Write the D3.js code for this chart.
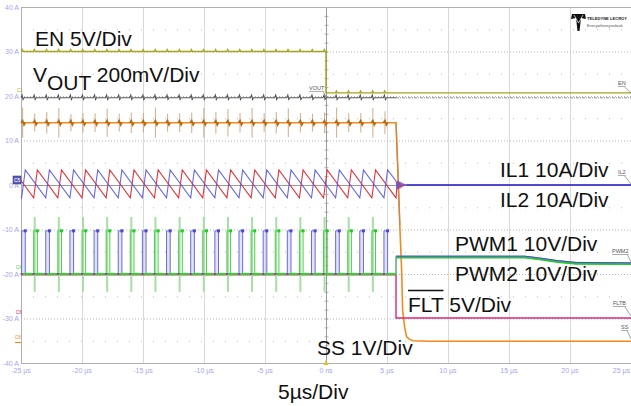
<!DOCTYPE html>
<html><head><meta charset="utf-8">
<script src="https://cdn.jsdelivr.net/npm/d3@7/dist/d3.min.js"></script>
<style>body{margin:0;background:#fff}svg{display:block}</style>
</head><body><svg id="c" width="631" height="406"></svg>
<script>
// ---- data read from the scope capture ----
const timeTicks = [-25,-20,-15,-10,-5,0,5,10,15,20,25];
const timeTickLabels = ["-25 µs","-20 µs","-15 µs","-10 µs","-5 µs","0 ns","5 µs","10 µs","15 µs","20 µs","25 µs"];
const divTicks = [40,30,20,10,0,-10,-20,-30,-40];
const divTickLabels = ["40 A","30 A","20 A","10 A","0 A","-10 A","-20 A","-30 A","-40 A"];
const halfDivTicks = [35,25,15,5,-5,-15,-25,-35];

// switching instants (µs) of the two phases (peak of inductor current = end of on-time)
const phase1Peaks = [-24.65,-22.67,-20.69,-18.71,-16.73,-14.75,-12.77,-10.79,-8.81,-6.83,-4.85,-2.87,-0.89,1.09,3.07,5.05];
const phase2Peaks = [-23.66,-21.68,-19.70,-17.72,-15.74,-13.76,-11.78,-9.80,-7.82,-5.84,-3.86,-1.88,0.10,2.08,4.06];
const onTime = 0.3;
const faultTime = 5.74;
const enFallTime = 0;

// levels (screen units, 10 per division)
const enLevels = [30, 20.7];
const voutLevel = 19.6;
const ilPeak = 3.4, ilValley = -2.9;
const il1Start = -2.7, il2Start = 1.0;
const ilRingTimes = [5.74, 5.85, 5.95, 6.05, 6.15, 6.3, 6.45, 6.6, 25];
const il1RingValues = [0.9, -1.0, 0.8, -0.7, 0.5, -0.3, 0.15, 0, 0];
const il2RingValues = [-2.9, 0.9, -0.9, 0.7, -0.5, 0.3, -0.1, 0, 0];
const pwmLow = -20, pwmHigh = -10.3;
const pwm2SpikeTop = -7.2, pwm2SpikeBottom = -24;
const pwmPostTimes = [5.74, 16.3, 17.5, 19.0, 20.5, 25];
const pwm1PostValues = [-16.0, -16.0, -16.4, -17.0, -17.4, -17.5];
const pwm2PostValues = [-16.3, -16.3, -16.7, -17.3, -17.7, -17.8];
const fltLevels = [-20.2, -29.9];
const ssHigh = 14;
const ssFallTimes = [5.74, 5.90, 6.05, 6.20, 6.28, 6.45, 6.61, 6.85, 7.13, 8.5, 25];
const ssFallValues = [14, 2.5, -9, -19.1, -28.1, -32.0, -34.1, -34.7, -35.0, -35.1, -35.1];
const ssSpikeAmps = [3.4,2.0,2.4,3.3,1.9,2.2,2.1,3.2,2.0,2.3,2.2,3.4,2.0,2.1,2.3,3.3,2.4,3.1,2.2,3.3,2.1,2.4,3.2,2.2,2.0,2.3,3.4,2.1,2.2,3.3,2.6];

const annotations = [
  {text:"EN 5V/Div", x:35, y:46},
  {text:"IL1 10A/Div", x:500, y:177},
  {text:"IL2 10A/Div", x:500, y:207},
  {text:"PWM1 10V/Div", x:455, y:251},
  {text:"PWM2 10V/Div", x:455, y:281},
  {text:"SS 1V/Div", x:317, y:355},
  {text:"5µs/Div", x:278, y:399}
];
const traceTags = [
  {text:"EN", x:618, y:85, lx:631, ly:93},
  {text:"IL2", x:618, y:174, lx:631, ly:184},
  {text:"PWM2", x:612, y:253, lx:631, ly:262},
  {text:"FLTB", x:613, y:305, lx:631, ly:316},
  {text:"SS", x:621, y:329, lx:631, ly:339},
  {text:"VOUT", x:309, y:90, lx:327, ly:98}
];

// ---- drawing ----
const svg = d3.select("#c");
const x = d3.scaleLinear().domain([-25,25]).range([21,631]);
const y = d3.scaleLinear().domain([-40,40]).range([363,7]);
const line = d3.line().x(d=>x(d[0])).y(d=>y(d[1]));
const FONT = "'Liberation Sans', Arial, sans-serif";

// grid
const g = svg.append("g");
g.selectAll(".vg").data(timeTicks.slice(1,-1)).enter().append("line")
  .attr("x1",d=>x(d)+0.5).attr("x2",d=>x(d)+0.5).attr("y1",y(40)).attr("y2",y(-40))
  .attr("stroke",d=>d===0?"#9a9a9a":"#d9d9d9").attr("stroke-width",1);
g.selectAll(".hg").data(divTicks.slice(1,-1)).enter().append("line")
  .attr("x1",x(-25)).attr("x2",x(25)).attr("y1",d=>y(d)+0.5).attr("y2",d=>y(d)+0.5)
  .attr("stroke",d=>d===0?"#9a9a9a":"#b5b5b5").attr("stroke-width",1)
  .attr("stroke-dasharray",d=>d===0?null:"1,2");
g.selectAll(".hh").data(halfDivTicks).enter().append("line")
  .attr("x1",x(-25)).attr("x2",x(25)).attr("y1",d=>y(d)+0.5).attr("y2",d=>y(d)+0.5)
  .attr("stroke","#bdbdbd").attr("stroke-width",1).attr("stroke-dasharray","1,11");
const ctick = d3.range(-40,40.1,2);
g.selectAll(".ct").data(ctick).enter().append("line")
  .attr("x1",x(0)-1.5).attr("x2",x(0)+2.5).attr("y1",d=>y(d)+0.5).attr("y2",d=>y(d)+0.5)
  .attr("stroke","#a0a0a0").attr("stroke-width",0.8);
g.append("line").attr("x1",x(-25)+0.5).attr("x2",x(-25)+0.5).attr("y1",y(40)).attr("y2",y(-40)).attr("stroke","#b0b0b0");
g.append("line").attr("x1",x(-25)).attr("x2",x(25)).attr("y1",y(40)+0.5).attr("y2",y(40)+0.5).attr("stroke","#b0b0b0");
g.append("line").attr("x1",x(-25)).attr("x2",x(25)).attr("y1",y(-40)+0.5).attr("y2",y(-40)+0.5).attr("stroke","#b0b0b0");

// axis labels
svg.selectAll(".yl").data(divTicks).enter().append("text")
  .attr("x",19).attr("y",d=>y(d)+2.5).attr("text-anchor","end")
  .attr("font-family",FONT).attr("font-size",7).attr("fill","#a6a6ee")
  .text((d,i)=>divTickLabels[i]);
svg.selectAll(".xl").data(timeTicks).enter().append("text")
  .attr("x",d=>d===25?630:x(d)).attr("y",373).attr("text-anchor",d=>d===25?"end":"middle")
  .attr("font-family",FONT).attr("font-size",7).attr("fill","#a6a6ee")
  .text((d,i)=>timeTickLabels[i]);
svg.append("path").attr("d",`M${x(0)-2.5},${y(-40)+2}L${x(0)+2.5},${y(-40)+2}L${x(0)},${y(-40)-3}Z`).attr("fill","#e0c020");

const edges = [];
phase1Peaks.forEach((p,i)=>{edges.push(p-onTime); if(i<phase2Peaks.length) edges.push(phase2Peaks[i]-onTime);});

// EN trace
const enPts = [[-25,enLevels[0]]];
edges.filter(e=>e<enFallTime).forEach(e=>{enPts.push([e,enLevels[0]],[e+0.06,enLevels[0]+0.4],[e+0.14,enLevels[0]]);});
enPts.push([enFallTime,enLevels[0]],[enFallTime,enLevels[1]]);
edges.filter(e=>e>enFallTime).forEach(e=>{enPts.push([e,enLevels[1]],[e+0.06,enLevels[1]+0.4],[e+0.14,enLevels[1]]);});
enPts.push([25,enLevels[1]]);
svg.append("path").attr("d",line(enPts)).attr("fill","none").attr("stroke","#a8a41c").attr("stroke-width",1.4);

// VOUT trace
const voPts = [[-25,voutLevel]];
edges.forEach(e=>{voPts.push([e-0.05,voutLevel],[e+0.04,voutLevel+0.6],[e+0.12,voutLevel-0.4],[e+0.2,voutLevel]);});
voPts.push([faultTime,voutLevel]);
svg.append("path").attr("d",line(voPts)).attr("fill","none").attr("stroke","#555").attr("stroke-width",1.1);
svg.append("path").attr("d",line([[faultTime,voutLevel],[25,voutLevel]])).attr("fill","none")
  .attr("stroke","#8a8a8a").attr("stroke-width",1).attr("stroke-dasharray","3,1,1,1");

// SS trace with switching spikes
const spG = svg.append("g");
edges.forEach((e,i)=>{
  const a = ssSpikeAmps[i];
  spG.append("line").attr("x1",x(e)+1).attr("x2",x(e)+1).attr("y1",y(ssHigh+a)).attr("y2",y(ssHigh-a))
    .attr("stroke","#c9a27a").attr("stroke-width",1.1).attr("opacity",0.8);
});
const ssPts = [[-25,ssHigh],[faultTime,ssHigh]];
ssFallTimes.forEach((t,i)=>ssPts.push([t,ssFallValues[i]]));
svg.append("path").attr("d",line(ssPts)).attr("fill","none").attr("stroke","#f28a1c").attr("stroke-width",1.6);
edges.forEach(e=>{
  svg.append("path").attr("d",line([[e-0.05,ssHigh],[e+0.08,ssHigh+0.5],[e+0.2,ssHigh-0.5],[e+0.3,ssHigh]]))
    .attr("fill","none").attr("stroke","#b86812").attr("stroke-width",1.6);
});
svg.append("path").attr("d",line([[faultTime,ssHigh],[5.9,2.5],[6.05,-9]])).attr("fill","none").attr("stroke","#c08a5a").attr("stroke-width",1.2);

// inductor currents
function ilPoints(peaks,start,ring){
  const pts=[[-25,start]];
  peaks.forEach(p=>{ if(p-onTime>-25) pts.push([p-onTime,ilValley]); pts.push([p,ilPeak]); });
  ilRingTimes.forEach((t,i)=>pts.push([t,ring[i]]));
  return pts;
}
svg.append("path").attr("d",line(ilPoints(phase2Peaks,il2Start,il2RingValues))).attr("fill","none").attr("stroke","#e2343c").attr("stroke-width",1.1);
svg.append("path").attr("d",line(ilPoints(phase1Peaks,il1Start,il1RingValues))).attr("fill","none").attr("stroke","#5858e0").attr("stroke-width",1.1).attr("opacity",0.9);
svg.append("path").attr("d",line([[6.6,0],[25,0]])).attr("fill","none").attr("stroke","#3a3ad8").attr("stroke-width",1.6);

// FLT
svg.append("path").attr("d",line([[-25,fltLevels[0]],[faultTime,fltLevels[0]],[faultTime,fltLevels[1]],[25,fltLevels[1]]]))
  .attr("fill","none").attr("stroke","#d8287c").attr("stroke-width",1.4);

// PWM
phase2Peaks.forEach(p=>{
  svg.append("line").attr("x1",x(p-onTime)+1).attr("x2",x(p-onTime)+1).attr("y1",y(pwm2SpikeTop)).attr("y2",y(pwm2SpikeBottom))
    .attr("stroke","#a6dea6").attr("stroke-width",2);
});
function pwmPoints(peaks,post){
  const pts=[[-25,pwmLow]];
  peaks.forEach(p=>{ const s=Math.max(-25,p-onTime); pts.push([s,pwmLow],[s,pwmHigh],[p,pwmHigh],[p,pwmLow]); });
  pts.push([faultTime,pwmLow]);
  pwmPostTimes.forEach((t,i)=>pts.push([t,post[i]]));
  return pts;
}
phase1Peaks.forEach(p=>{
  const s=Math.max(-25,p-onTime);
  svg.append("rect").attr("x",x(s)).attr("y",y(pwmHigh)).attr("width",x(p)-x(s)).attr("height",y(pwmLow)-y(pwmHigh))
    .attr("fill","#b8b8ee").attr("opacity",0.4);
});
svg.append("path").attr("d",line(pwmPoints(phase1Peaks,pwm1PostValues))).attr("fill","none").attr("stroke","#6a6ad8").attr("stroke-width",1.0);
svg.append("path").attr("d",line(pwmPoints(phase2Peaks,pwm2PostValues))).attr("fill","none").attr("stroke","#4ccc4c").attr("stroke-width",1.0);
svg.append("path").attr("d",line([[-25,pwmLow],[faultTime,pwmLow]])).attr("fill","none").attr("stroke","#22dd22").attr("stroke-width",2.2);
svg.append("path").attr("d",line(pwmPostTimes.map((t,i)=>[t,pwm2PostValues[i]]))).attr("fill","none").attr("stroke","#22cc22").attr("stroke-width",1.8);
svg.append("path").attr("d",line(pwmPostTimes.map((t,i)=>[t,pwm1PostValues[i]]))).attr("fill","none").attr("stroke","#4a4ad8").attr("stroke-width",1.0);
edges.forEach(e=>{
  svg.append("rect").attr("x",x(e)-1).attr("y",y(pwmLow)-1).attr("width",2).attr("height",2).attr("fill","#b030b0");
});
[...phase1Peaks,...phase2Peaks].forEach(p=>{
  svg.append("rect").attr("x",x(p)-1.5).attr("y",y(pwmHigh)-1.5).attr("width",3).attr("height",3)
    .attr("fill",phase2Peaks.includes(p)?"#22cc22":"#4848d0");
});

// left channel markers
svg.append("text").attr("x",17).attr("y",y(20.7)-1).attr("font-family",FONT).attr("font-size",4.5).attr("fill","#a8a41c").text("C1");
svg.append("rect").attr("x",13).attr("y",176).attr("width",8).attr("height",8).attr("fill","#5a5ac8").attr("stroke","#333").attr("stroke-width",0.5);
svg.append("text").attr("x",14).attr("y",182).attr("font-family",FONT).attr("font-size",5).attr("fill","#fff").text("C5");
svg.append("text").attr("x",16).attr("y",268.5).attr("font-family",FONT).attr("font-size",4.5).attr("fill","#3cc83c").text("C4");
svg.append("text").attr("x",16).attr("y",313.5).attr("font-family",FONT).attr("font-size",4.5).attr("fill","#d8287c").text("C6");
svg.append("text").attr("x",15).attr("y",339).attr("font-family",FONT).attr("font-size",4.5).attr("fill","#f28a1c").text("C8");
svg.append("line").attr("x1",15).attr("x2",21).attr("y1",342.5).attr("y2",342.5).attr("stroke","#f28a1c").attr("stroke-width",1.2);

// trace tags at right
traceTags.forEach(t=>{
  const tx = svg.append("text").attr("x",t.x).attr("y",t.y).attr("font-family",FONT).attr("font-size",5.5).attr("fill","#555").text(t.text);
  const w = tx.node().getComputedTextLength();
  svg.append("line").attr("x1",t.x).attr("x2",t.x+w).attr("y1",t.y+1.5).attr("y2",t.y+1.5).attr("stroke","#777").attr("stroke-width",0.6);
  svg.append("line").attr("x1",t.x+w-1).attr("x2",t.lx).attr("y1",t.y+2).attr("y2",t.ly).attr("stroke","#666").attr("stroke-width",0.6);
});

// logo
const lg = svg.append("g");
lg.append("path").attr("d","M572,14 L585,14 L586,19 L581,18 L579.5,31 L577.5,31 L576,18 L571,19 Z").attr("fill","#111");
lg.append("path").attr("d","M574,15 L578.5,23 L583,15").attr("fill","none").attr("stroke","#fff").attr("stroke-width",0.7);
lg.append("text").attr("x",587).attr("y",19.5).attr("font-family",FONT).attr("font-size",4.1).attr("font-weight","bold").attr("fill","#222").text("TELEDYNE LECROY");
lg.append("text").attr("x",587).attr("y",26.5).attr("font-family",FONT).attr("font-size",4.1).attr("fill","#555").text("Everywhereyoulook");

// big annotations
annotations.forEach(a=>{
  svg.append("text").attr("x",a.x).attr("y",a.y).attr("font-family",FONT).attr("font-size",21).attr("fill","#111").text(a.text);
});
const vo = svg.append("text").attr("x",33).attr("y",82).attr("font-family",FONT).attr("font-size",21).attr("fill","#111");
vo.append("tspan").text("V");
vo.append("tspan").attr("dy",8).text("OUT");
vo.append("tspan").attr("dy",-8).text(" 200mV/Div");
const flt = svg.append("text").attr("x",408).attr("y",312).attr("font-family",FONT).attr("font-size",21).attr("fill","#111");
const fltT = flt.append("tspan").text("FLT");
flt.append("tspan").text(" 5V/Div");
const fw = fltT.node().getComputedTextLength();
svg.append("line").attr("x1",408).attr("x2",408+fw).attr("y1",290.5).attr("y2",290.5).attr("stroke","#111").attr("stroke-width",1.6);
</script></body></html>
